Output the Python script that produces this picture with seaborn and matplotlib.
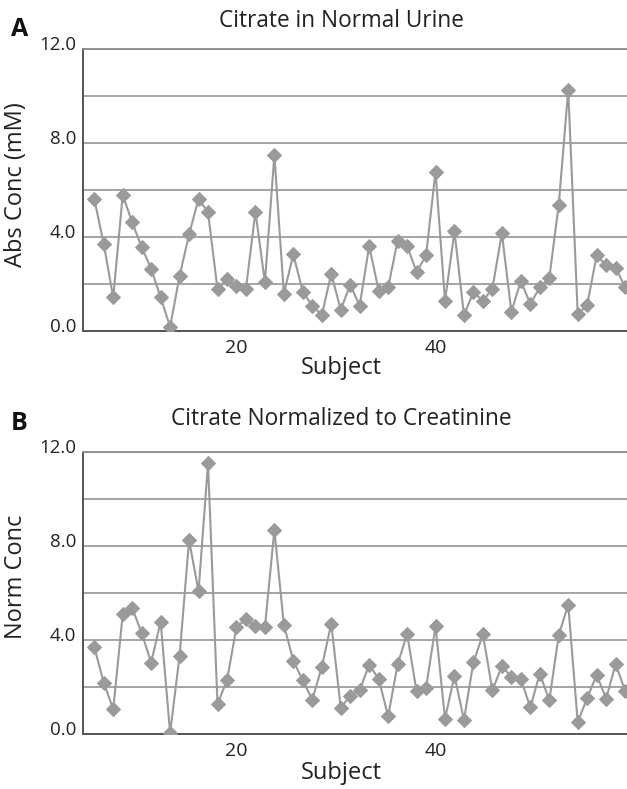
import matplotlib
matplotlib.use("Agg")
import matplotlib.pyplot as plt
import matplotlib.transforms as mtransforms
import seaborn as sns
import pandas as pd

# values, one per subject in plotted order
abs_conc = [5.62, 3.69, 1.43, 5.79, 4.62, 3.57, 2.65, 1.43, 0.18, 2.34,
            4.11, 5.62, 5.05, 1.77, 2.20, 1.91, 1.79, 5.08, 2.07, 7.48,
            1.59, 3.26, 1.66, 1.08, 0.67, 2.43, 0.91, 1.96, 1.08, 3.62,
            1.72, 1.86, 3.84, 3.62, 2.51, 3.22, 6.78, 1.28, 4.24, 0.67,
            1.66, 1.28, 1.80, 4.17, 0.82, 2.13, 1.15, 1.86, 2.24, 5.38,
            10.27, 0.71, 1.11, 3.22, 2.79, 2.70, 1.86]
norm_conc = [3.70, 2.18, 1.06, 5.09, 5.36, 4.30, 3.04, 4.78, 0.04, 3.33,
             8.24, 6.07, 11.52, 1.28, 2.28, 4.55, 4.89, 4.58, 4.54, 8.68,
             4.65, 3.11, 2.28, 1.46, 2.85, 4.70, 1.11, 1.63, 1.86, 2.95,
             2.35, 0.75, 2.96, 4.26, 1.82, 1.97, 4.58, 0.65, 2.48, 0.60,
             3.05, 4.24, 1.86, 2.89, 2.43, 2.34, 1.13, 2.57, 1.43, 4.21,
             5.50, 0.51, 1.53, 2.52, 1.50, 2.98, 1.84]
order = list(range(1, len(abs_conc) + 1))
xtick_pos = [16, 37]
xtick_labels = ["20", "40"]
ytick_vals = [0, 2, 4, 6, 8, 10, 12]
ytick_labels = ["0.0", "", "4.0", "", "8.0", "", "12.0"]

sns.set_style("white")
plt.rcParams["font.family"] = ["Open Sans", "DejaVu Sans"]

W, H = 627, 789
fig = plt.figure(figsize=(W / 100, H / 100), dpi=100)

line_col = "#9a9a9a"
grid_col = "#8c8c8c"
axis_col = "#555555"
text_col = "#222222"


def panel(top, values, ylabel, title, letter, title_y, subj_y, letter_y, ylab_y):
    ax = fig.add_axes([83 / W, 1 - (top + 282) / H, (W - 83) / W, 282 / H])
    df = pd.DataFrame({"order": order, "value": values})
    sns.lineplot(data=df, x="order", y="value", ax=ax, color=line_col,
                 linewidth=1.5, marker="D", markersize=7,
                 markeredgecolor=line_col, markerfacecolor=line_col, zorder=3)
    ax.set_xlim(-0.19, 57.2)
    ax.set_ylim(0, 12)
    ax.set_yticks(ytick_vals)
    ax.set_yticklabels(ytick_labels, fontsize=13.5, color=text_col)
    ax.tick_params(axis="y", length=0, pad=5)
    off = mtransforms.ScaledTranslation(0, 6 / 100, fig.dpi_scale_trans)
    for lab in ax.get_yticklabels():
        lab.set_transform(lab.get_transform() + off)
    ax.set_xticks(xtick_pos)
    ax.set_xticklabels(xtick_labels, fontsize=14, color=text_col)
    ax.set_xticks(range(0, 58), minor=True)
    ax.tick_params(axis="x", which="both", direction="out", length=3,
                   width=0.9, color=axis_col, pad=3)
    ax.grid(axis="y", color=grid_col, linewidth=1.1)
    ax.set_axisbelow(True)
    ax.spines["right"].set_visible(False)
    ax.spines["top"].set_color(grid_col)
    ax.spines["top"].set_linewidth(1.3)
    for s in ["left", "bottom"]:
        ax.spines[s].set_color(axis_col)
        ax.spines[s].set_linewidth(1.4)
    ax.set_xlabel("")
    ax.set_ylabel(ylabel, fontsize=17, color=text_col)
    ax.yaxis.set_label_coords(-0.101, (top + 282 - ylab_y) / 282)
    fig.text(341 / W, 1 - title_y / H, title, ha="center", va="center",
             fontsize=16.3, color=text_col)
    fig.text(341 / W, 1 - subj_y / H, "Subject", ha="center", va="center",
             fontsize=17, color=text_col)
    fig.text(11 / W, 1 - letter_y / H, letter, ha="left", va="center",
             fontsize=18, fontweight="bold", color="#111111")
    return ax


panel(49, abs_conc, "Abs Conc (mM)", "Citrate in Normal Urine", "A",
      21, 368, 30, 185)
panel(452, norm_conc, "Norm Conc", "Citrate Normalized to Creatinine", "B",
      419, 773, 424, 577)

fig.savefig("out.png", dpi=100)
